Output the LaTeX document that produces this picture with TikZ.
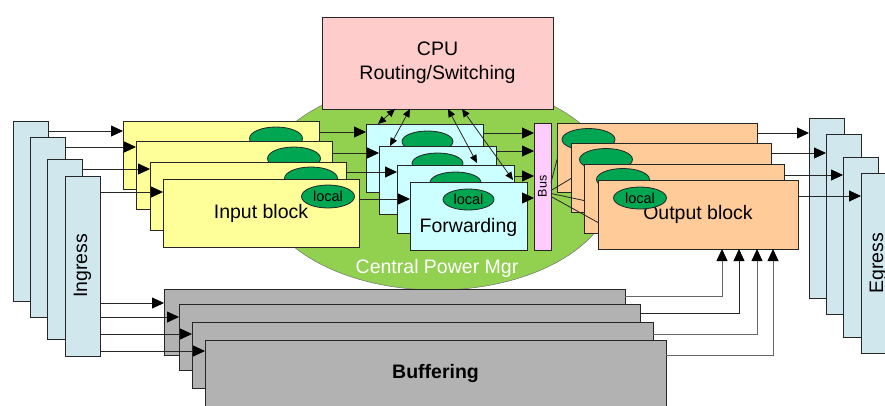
\documentclass[tikz,border=0pt]{standalone}
\usepackage{fontspec}
\setmainfont{Liberation Sans}
\usepackage{tikz}
\usetikzlibrary{shapes.geometric, arrows.meta, calc}
\definecolor{portblue}{RGB}{208, 231, 238}
\definecolor{inputyellow}{RGB}{255, 255, 153}
\definecolor{fwdcyan}{RGB}{204, 255, 255}
\definecolor{outputorange}{RGB}{255, 204, 153}
\definecolor{cpupink}{RGB}{255, 204, 204}
\definecolor{buspink}{RGB}{255, 204, 255}
\definecolor{powergreen}{RGB}{146, 208, 80}
\definecolor{localgreen}{RGB}{0, 166, 81}
\definecolor{buffergray}{RGB}{178, 178, 178}

\begin{document}
\begin{tikzpicture}[x=1pt, y=-1pt,
        % --- TikZ Styles ---
        basebox/.style={
            draw=black!85, line width=0.8pt, anchor=north west,
            inner sep=0pt, outer sep=0pt, align=center,
            font=\fontsize{19.5}{24}\selectfont
        },
        portbox/.style={basebox, fill=portblue, minimum width=35pt, minimum height=180pt},
        inputbox/.style={basebox, fill=inputyellow, minimum width=196pt, minimum height=68pt},
        fwdbox/.style={basebox, fill=fwdcyan, minimum width=117pt, minimum height=68pt},
        outputbox/.style={basebox, fill=outputorange, minimum width=200pt, minimum height=69pt},
        bufferbox/.style={basebox, fill=buffergray, minimum width=461pt, minimum height=66pt,
            font=\fontsize{19.5}{24}\selectfont\bfseries},
        localoval/.style={
            ellipse, draw=black!85, line width=0.8pt, fill=localgreen,
            minimum width=53pt, minimum height=23pt, inner sep=0pt,
            font=\fontsize{14.5}{17}\selectfont
        },
        arrow/.style={line width=0.8pt, draw=black!85, -{Triangle[length=12pt, width=11pt, color=black]}},
        duplex/.style={line width=0.8pt, draw=black!85,
            {Triangle[length=8pt, width=7pt, color=black]}-{Triangle[length=8pt, width=7pt, color=black]}},
        wire/.style={line width=0.8pt, draw=black!85}
    ]

    \useasboundingbox (0,0) rectangle (885,405);
    \clip (0,0) rectangle (885,405);

    % --- 1. POWER MANAGER AND CPU ---
    \node[ellipse, draw=black!55, line width=0.5pt, fill=powergreen,
        minimum width=354pt, minimum height=210pt, inner sep=0pt] (cpm) at (437,185) {};
    \node[font=\fontsize{19.5}{24}\selectfont, text=white] (cpmtext) at ($(cpm.south)+(0,-22)$) {Central Power Mgr};

    \node[basebox, fill=cpupink, minimum width=231pt, minimum height=92pt] (cpu) at (322,17) {
        CPU\\ Routing/Switching
    };

    % --- 2. INGRESS / EGRESS PORTS ---
    \node[portbox] (ing1) at (13,121) {};
    \node[portbox] (ing2) at (30,137) {};
    \node[portbox] (ing3) at (47,159) {};
    \node[portbox] (ing4) at (65,176) {\rotatebox{90}{Ingress}};

    \node[portbox] (eg1) at (809,118) {};
    \node[portbox] (eg2) at (826,134) {};
    \node[portbox] (eg3) at (843,157) {};
    \node[portbox] (eg4) at (861,173) {\rotatebox{90}{Egress}};

    % --- 3. INPUT BLOCKS ---
    \node[inputbox] (in1) at (123,121) {};
    \node[localoval] (in1loc) at (276,138.5) {};
    \node[inputbox] (in2) at (136,141) {};
    \node[localoval] (in2loc) at (294,158.5) {};
    \node[inputbox] (in3) at (150,162) {};
    \node[localoval] (in3loc) at (311,178.5) {};
    \node[inputbox] (in4) at (163,179) {Input block};
    \node[localoval] (in4loc) at (328,196.5) {local};

    % --- 4. FORWARDING BLOCKS ---
    \node[fwdbox] (fw1) at (366,124) {};
    \node[localoval, minimum width=51pt, minimum height=21pt] (fw1loc) at ($(fw1.north)+(3,17.5)$) {};
    \node[fwdbox] (fw2) at (379,146) {};
    \node[localoval, minimum width=51pt, minimum height=21pt] (fw2loc) at ($(fw2.north)+(0,17.5)$) {};
    \node[fwdbox] (fw3) at (397,165) {};
    \node[localoval, minimum width=51pt, minimum height=21pt] (fw3loc) at ($(fw3.north)+(0,17.5)$) {};
    \node[fwdbox] (fw4) at (410,182) {};
    \node[localoval, minimum width=51pt, minimum height=21pt] (fw4loc) at ($(fw4.north)+(0,17.5)$) {local};
    \node[font=\fontsize{19.5}{24}\selectfont] (fwdtext) at ($(fw4.center)+(0,11)$) {Forwarding};

    \node[basebox, fill=buspink, minimum width=17pt, minimum height=127pt,
        font=\fontsize{12.5}{14}\selectfont] (bus) at (534,123) {\rotatebox{90}{Bus}};

    % --- 5. OUTPUT BLOCKS ---
    \node[outputbox] (out1) at (557,123) {};
    \node[localoval, minimum height=22pt] (out1loc) at (588.5,139.5) {};
    \node[outputbox] (out2) at (571,143) {};
    \node[localoval, minimum height=22pt] (out2loc) at (606,159.5) {};
    \node[outputbox] (out3) at (584,164) {};
    \node[localoval, minimum height=22pt] (out3loc) at (623,179.5) {};
    \node[outputbox] (out4) at (598,180) {Output block};
    \node[localoval, minimum height=22pt] (out4loc) at (640,198) {local};

    % --- 6. BUFFERING ---
    \node[bufferbox] (buf1) at (164,289) {};
    \node[bufferbox] (buf2) at (179,304) {};
    \node[bufferbox] (buf3) at (192,322) {};
    \node[bufferbox] (buf4) at (205,340) {Buffering};

    % --- CONNECTIONS ---

    % Ingress to input blocks
    \coordinate (ing1out) at ($(ing1.north east)+(0,10)$);
    \coordinate (ing2out) at ($(ing2.north east)+(0,10)$);
    \coordinate (ing3out) at ($(ing3.north east)+(0,10)$);
    \coordinate (ing4out) at ($(ing4.north east)+(0,16)$);
    \draw[arrow] (ing1out) -- (ing1out -| in1.west);
    \draw[arrow] (ing2out) -- (ing2out -| in2.west);
    \draw[arrow] (ing3out) -- (ing3out -| in3.west);
    \draw[arrow] (ing4out) -- (ing4out -| in4.west);

    % Input blocks to forwarding
    \coordinate (in1out) at ($(in1.north east)+(0,11)$);
    \coordinate (in2out) at ($(in2.north east)+(0,12)$);
    \coordinate (in3out) at ($(in3.north east)+(0,10)$);
    \coordinate (in4out) at ($(in4.north east)+(0,20)$);
    \draw[arrow] (in1out) -- (in1out -| fw1.west);
    \draw[arrow] (in2out) -- (in2out -| fw2.west);
    \draw[arrow] (in3out) -- (in3out -| fw3.west);
    \draw[arrow] (in4out) -- (in4out -| fw4.west);

    % CPU to forwarding (both ways)
    \draw[duplex] ($(cpu.south west)+(73,0)$) -- ($(fw1.north west)+(12,0)$);
    \draw[duplex] ($(cpu.south west)+(88,0)$) -- ($(fw2.north west)+(11,0)$);
    \draw[duplex] ($(cpu.south west)+(126,0)$) -- ($(fw3.north west)+(80,-2)$);
    \draw[duplex] ($(cpu.south west)+(140,0)$) -- ($(fw4.north west)+(103,-2)$);

    % Forwarding to bus
    \coordinate (fw1out) at ($(fw1.north east)+(0,9)$);
    \coordinate (fw2out) at ($(fw2.north east)+(0,5)$);
    \coordinate (fw3out) at ($(fw3.north east)+(0,11)$);
    \coordinate (fw4out) at ($(fw4.north east)+(0,16)$);
    \draw[arrow] (fw1out) -- (fw1out -| bus.west);
    \draw[arrow] (fw2out) -- (fw2out -| bus.west);
    \draw[arrow] (fw3out) -- (fw3out -| bus.west);
    \draw[arrow] (fw4out) -- (fw4out -| bus.west);

    % Bus fan-out to output blocks
    \draw[wire] ($(bus.east)+(0,-4)$) -- ($(out1.west)+(0,2)$);
    \draw[wire] ($(bus.east)+(0,4)$) -- ($(out2.west)+(0,1)$);
    \draw[wire] ($(bus.east)+(0,7)$) -- ($(out3.west)+(0,2)$);
    \draw[wire] ($(bus.east)+(0,10)$) -- ($(out4.west)+(0,8)$);

    % Output blocks to egress
    \coordinate (out1out) at ($(out1.north east)+(0,10)$);
    \coordinate (out2out) at ($(out2.north east)+(0,10)$);
    \coordinate (out3out) at ($(out3.north east)+(0,11)$);
    \coordinate (out4out) at ($(out4.north east)+(0,16)$);
    \draw[arrow] (out1out) -- (out1out -| eg1.west);
    \draw[arrow] (out2out) -- (out2out -| eg2.west);
    \draw[arrow] (out3out) -- (out3out -| eg3.west);
    \draw[arrow] (out4out) -- (out4out -| eg4.west);

    % Ingress to buffering
    \coordinate (buf1in) at ($(buf1.north west)+(0,14)$);
    \coordinate (buf2in) at ($(buf2.north west)+(0,13)$);
    \coordinate (buf3in) at ($(buf3.north west)+(0,12)$);
    \coordinate (buf4in) at ($(buf4.north west)+(0,11)$);
    \draw[arrow] (ing4.east |- buf1in) -- (buf1in);
    \draw[arrow] (ing4.east |- buf2in) -- (buf2in);
    \draw[arrow] (ing4.east |- buf3in) -- (buf3in);
    \draw[arrow] (ing4.east |- buf4in) -- (buf4in);

    % Buffering up to the output block
    \draw[arrow, draw=black!60] ($(buf1.north east)+(0,7)$) -| ($(out4.south west)+(124,0)$);
    \draw[arrow] ($(buf2.north east)+(0,9)$) -| ($(out4.south west)+(141,0)$);
    \draw[arrow, draw=black!60] ($(buf3.north east)+(0,12)$) -| ($(out4.south west)+(159,0)$);
    \draw[arrow, draw=black!60] ($(buf4.north east)+(0,15)$) -| ($(out4.south west)+(175,0)$);

\end{tikzpicture}
\end{document}
